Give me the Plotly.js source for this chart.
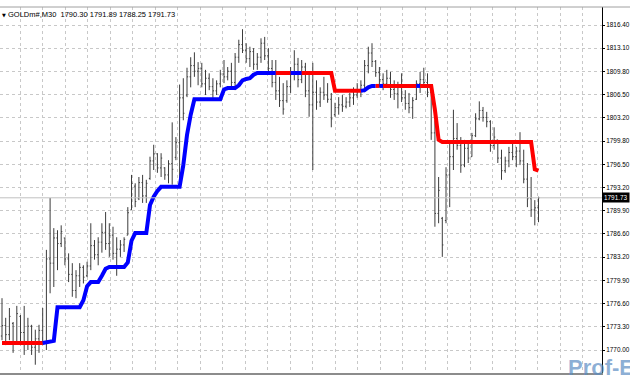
<!DOCTYPE html>
<html><head><meta charset="utf-8">
<script src="https://cdn.plot.ly/plotly-3.0.1.min.js"></script>
<style>html,body{margin:0;padding:0;background:#fff;}#chart{width:630px;height:380px;}</style>
</head><body><div id="chart"></div>
<script>
const highs = [
1777.4,1774.6,1776.0,1774.0,1776.3,1775.0,1776.3,1774.6,1773.6,1772.9,
1773.6,1776.0,1784.3,1791.7,1787.4,1787.1,1787.8,1786.0,1783.8,1782.4,
1781.4,1782.4,1782.1,1782.6,1788.1,1785.7,1786.1,1788.1,1789.7,1788.1,
1787.6,1786.1,1785.7,1786.1,1790.4,1795.0,1793.8,1794.7,1795.0,1794.3,
1797.6,1799.3,1798.1,1798.1,1796.1,1797.1,1802.5,1800.4,1807.9,1808.8,
1810.3,1811.8,1812.5,1811.1,1811.0,1810.0,1809.5,1808.8,1808.5,1810.0,
1811.4,1810.4,1811.0,1812.4,1814.3,1815.8,1813.8,1813.3,1813.1,1812.4,
1814.5,1814.7,1813.1,1811.4,1811.4,1809.0,1808.1,1808.5,1810.4,1812.8,
1811.7,1811.4,1811.0,1809.5,1811.0,1808.5,1807.5,1809.0,1808.1,1806.7,
1805.3,1806.1,1806.4,1806.1,1806.7,1807.5,1808.1,1808.5,1811.4,1813.3,
1813.8,1811.4,1810.4,1809.5,1810.0,1809.7,1808.5,1808.3,1809.5,1807.1,
1806.7,1806.1,1808.5,1809.7,1810.3,1809.5,1807.5,1802.8,1794.7,1789.0,
1796.1,1799.6,1804.3,1802.4,1800.4,1800.0,1799.6,1801.0,1803.8,1805.5,
1804.7,1804.0,1802.8,1801.8,1800.0,1798.6,1797.6,1799.0,1799.6,1799.0,
1801.1,1798.6,1796.7,1794.7,1791.4,1791.89];
const lows = [
1771.4,1770.7,1771.4,1769.6,1771.0,1770.7,1769.3,1770.0,1769.3,1767.9,
1769.6,1770.7,1770.0,1778.1,1779.0,1781.4,1784.7,1782.1,1779.7,1777.6,
1777.4,1779.0,1779.5,1780.4,1781.4,1782.9,1782.1,1783.9,1784.3,1783.3,
1782.9,1780.6,1783.3,1784.0,1786.4,1790.0,1790.4,1791.4,1791.0,1791.0,
1794.3,1795.7,1795.3,1794.7,1794.3,1793.8,1793.6,1797.1,1794.3,1802.8,
1806.1,1807.5,1809.0,1807.8,1807.5,1806.4,1807.1,1806.0,1806.4,1807.5,
1808.1,1808.5,1807.5,1807.1,1811.0,1812.4,1811.0,1810.4,1810.0,1810.0,
1811.0,1811.4,1809.5,1807.5,1805.7,1804.7,1803.6,1805.3,1806.7,1808.5,
1807.5,1808.1,1806.1,1803.3,1795.7,1804.3,1804.7,1805.7,1805.3,1801.8,
1803.3,1803.6,1804.0,1804.5,1804.7,1805.0,1806.0,1806.1,1806.8,1809.5,
1810.4,1809.0,1807.5,1807.1,1807.5,1806.0,1805.7,1804.5,1805.4,1804.3,
1803.8,1803.0,1805.7,1806.7,1807.5,1806.1,1800.0,1787.6,1788.1,1783.3,
1788.1,1790.4,1795.7,1798.6,1795.3,1796.1,1796.7,1797.6,1800.4,1802.8,
1802.6,1801.8,1798.3,1798.6,1796.7,1794.3,1795.3,1796.1,1797.1,1796.1,
1796.4,1793.8,1790.4,1789.0,1787.8,1788.25];
const opens = [
1772.0,1773.5,1772.2,1773.8,1771.0,1774.8,1772.5,1771.2,1773.4,1770.4,
1771.6,1772.8,1771.2,1783.0,1782.4,1786.0,1785.2,1786.0,1783.0,1780.8,
1778.5,1780.6,1781.8,1780.6,1782.0,1784.9,1783.6,1785.4,1786.8,1785.2,
1786.4,1783.8,1784.4,1785.0,1786.4,1790.0,1793.4,1791.6,1793.9,1792.0,
1794.5,1797.0,1798.0,1796.0,1796.0,1795.0,1796.6,1797.5,1799.6,1806.0,
1806.4,1809.0,1810.6,1809.8,1810.2,1808.0,1808.8,1807.6,1807.0,1808.0,
1809.4,1809.0,1809.8,1808.2,1811.8,1813.6,1812.8,1811.6,1812.6,1810.8,
1811.8,1813.8,1812.0,1810.2,1808.2,1807.0,1805.6,1805.6,1807.6,1809.6,
1810.8,1808.6,1810.4,1807.0,1805.0,1806.8,1805.4,1806.8,1806.4,1805.8,
1803.6,1804.6,1805.0,1804.8,1805.4,1806.0,1806.4,1807.2,1807.8,1810.6,
1812.4,1811.2,1809.6,1808.6,1808.0,1808.8,1807.2,1806.6,1807.6,1806.0,
1805.2,1804.6,1805.8,1808.0,1808.6,1808.2,1806.8,1801.0,1789.5,1788.8,
1788.5,1795.0,1797.6,1800.2,1799.2,1796.4,1798.8,1797.6,1800.6,1803.0,
1804.2,1803.2,1802.6,1799.2,1800.0,1797.4,1795.6,1797.0,1798.2,1797.6,
1798.4,1797.0,1794.4,1791.6,1790.0,1790.30];
const closes = [
1773.5,1772.2,1774.8,1771.0,1775.2,1772.5,1771.2,1773.4,1770.4,1771.6,
1772.8,1771.2,1783.0,1782.4,1786.0,1785.2,1786.9,1783.0,1780.8,1778.5,
1780.6,1781.8,1780.4,1782.0,1784.9,1783.6,1785.4,1786.8,1785.2,1786.4,
1783.8,1784.4,1785.0,1785.8,1789.6,1793.8,1791.2,1793.9,1792.0,1793.8,
1797.0,1798.0,1796.0,1797.4,1795.0,1796.6,1795.8,1799.6,1806.0,1803.8,
1809.0,1810.6,1809.8,1810.2,1808.0,1808.8,1807.6,1807.0,1808.0,1809.4,
1809.0,1809.8,1808.2,1811.8,1813.6,1812.8,1811.6,1812.6,1810.8,1811.8,
1813.8,1812.0,1810.2,1808.2,1807.0,1805.6,1804.4,1807.6,1809.6,1810.8,
1808.6,1810.4,1807.0,1805.0,1806.8,1805.4,1806.8,1806.4,1805.8,1803.0,
1804.6,1805.0,1804.8,1805.4,1806.0,1806.4,1807.2,1807.8,1810.6,1812.4,
1811.2,1809.6,1808.6,1808.0,1808.8,1807.2,1806.6,1807.6,1806.0,1805.2,
1804.6,1805.6,1808.0,1808.6,1808.2,1806.8,1801.0,1789.5,1792.8,1785.0,
1795.0,1797.6,1800.2,1799.2,1796.4,1798.8,1797.4,1800.6,1803.0,1804.2,
1803.2,1802.6,1799.2,1800.4,1797.4,1795.6,1797.0,1798.2,1797.6,1798.4,
1797.0,1794.4,1791.6,1790.0,1790.3,1791.73];
const signalLine = [
1771.0,1771.0,1771.0,1771.0,1771.0,1771.0,1771.0,1771.0,1771.0,1771.0,
1771.0,1771.0,1771.1,1771.3,1771.3,1776.1,1776.1,1776.1,1776.1,1776.1,
1776.1,1776.1,1777.1,1779.1,1779.7,1779.7,1779.7,1780.6,1781.6,1781.85,
1781.85,1781.85,1781.85,1781.85,1782.5,1785.6,1786.7,1786.7,1786.7,1786.7,
1790.7,1791.9,1792.7,1793.3,1793.3,1793.3,1793.3,1793.3,1793.3,1796.4,
1800.7,1803.6,1805.8,1805.8,1805.8,1805.8,1805.8,1805.8,1805.8,1805.8,
1807.2,1807.4,1807.4,1807.4,1807.8,1808.5,1808.7,1808.8,1809.3,1809.55,
1809.55,1809.55,1809.55,1809.55,1809.55,1809.55,1809.55,1809.55,1809.55,1809.55,
1809.55,1809.55,1809.55,1809.55,1809.55,1809.55,1809.55,1809.55,1809.55,1809.55,
1807.0,1807.0,1807.0,1807.0,1807.0,1807.0,1807.0,1807.0,1807.1,1807.5,
1807.7,1807.7,1807.7,1807.7,1807.7,1807.7,1807.7,1807.7,1807.7,1807.7,
1807.7,1807.7,1807.7,1807.7,1807.7,1807.7,1807.7,1804.3,1800.0,1799.7,
1799.7,1799.7,1799.7,1799.7,1799.7,1799.7,1799.7,1799.7,1799.7,1799.7,
1799.7,1799.7,1799.7,1799.7,1799.7,1799.7,1799.7,1799.7,1799.7,1799.7,
1799.7,1799.7,1799.7,1799.7,1795.8,1795.6];
const trendDir = [
-1,-1,-1,-1,-1,-1,-1,-1,-1,-1,
-1,-1,1,1,1,1,1,1,1,1,
1,1,1,1,1,1,1,1,1,1,
1,1,1,1,1,1,1,1,1,1,
1,1,1,1,1,1,1,1,1,1,
1,1,1,1,1,1,1,1,1,1,
1,1,1,1,1,1,1,1,1,1,
1,1,1,1,1,-1,-1,-1,-1,1,
1,1,-1,-1,-1,-1,-1,-1,-1,-1,
-1,-1,-1,-1,-1,-1,-1,-1,1,1,
1,1,-1,1,-1,-1,-1,-1,-1,-1,
-1,-1,-1,1,-1,-1,-1,-1,-1,-1,
-1,-1,-1,-1,-1,-1,-1,-1,-1,-1,
-1,-1,-1,-1,-1,-1,-1,-1,-1,-1,
-1,-1,-1,-1,-1,-1];
const yTickLabels = ['1770.00','1773.30','1776.60','1779.90','1783.20','1786.60','1789.90','1793.20','1796.50','1799.80','1803.20','1806.50','1809.80','1813.10','1816.40'];
const lastPrice = 1791.73;
const symbolInfo = 'GOLDm#,M30  1790.30 1791.89 1788.25 1791.73';
const watermark = 'Prof-E';

const barIdx = highs.map((_, i) => i);
const tLo = parseFloat(yTickLabels[0]), tHi = parseFloat(yTickLabels[yTickLabels.length-1]);
const yTickVals = yTickLabels.map((_, k) => tLo + k*(tHi - tLo)/(yTickLabels.length-1));

const traces = [{
  type:'ohlc', x:barIdx, open:opens, high:highs, low:lows, close:closes,
  increasing:{line:{color:'#3c3c3c', width:1}},
  decreasing:{line:{color:'#3c3c3c', width:1}},
  tickwidth:0.3, hoverinfo:'skip', showlegend:false
}];
let start = 0;
for (let i = 1; i <= signalLine.length; i++) {
  if (i === signalLine.length || trendDir[i] !== trendDir[start]) {
    const from = Math.max(0, start - 1);
    traces.push({type:'scatter', mode:'lines', x:barIdx.slice(from, i), y:signalLine.slice(from, i),
      line:{color: trendDir[start] > 0 ? '#0000ff' : '#ff0000', width:4}, showlegend:false, hoverinfo:'skip'});
    start = i;
  }
}

const axisFont = 'Liberation Sans';
const gridCol = '#c8c8c8';
const layout = {
  width:630, height:380,
  margin:{l:0, r:28, t:7, b:7, pad:0},
  paper_bgcolor:'#ffffff', plot_bgcolor:'#ffffff',
  showlegend:false,
  xaxis:{range:[-0.54,162.16], rangeslider:{visible:false}, showgrid:true, gridcolor:gridCol, griddash:'3px,3px',
    tickmode:'linear', tick0:4.865, dtick:6.081, showticklabels:false, ticks:'', zeroline:false,
    showline:true, linecolor:'#8c8c8c', linewidth:2, fixedrange:true},
  yaxis:{side:'right', range:[1766.72,1818.97], tickmode:'array', tickvals:yTickVals, ticktext:yTickLabels,
    showgrid:true, gridcolor:gridCol, griddash:'3px,3px', ticks:'outside', ticklen:2, tickcolor:'#000',
    showline:true, linecolor:'#000', linewidth:1, zeroline:false,
    tickfont:{family:axisFont, size:6.4, color:'#000'}},
  shapes:[
    {type:'line', xref:'paper', yref:'y', x0:0, x1:1, y0:lastPrice, y1:lastPrice, line:{color:'#c0c0c0', width:1}},
    {type:'line', xref:'paper', yref:'paper', x0:0, x1:1.05, y0:1, y1:1, line:{color:'#a0a0a0', width:1}}
  ],
  annotations:[
    {xref:'paper', yref:'paper', x:0, y:1, xanchor:'left', yanchor:'top', xshift:0, yshift:-3, text:'▼', showarrow:false, font:{family:'DejaVu Sans', size:5, color:'#000'}},
    {xref:'paper', yref:'paper', x:0, y:1, xanchor:'left', yanchor:'top', xshift:6, yshift:-1, text:symbolInfo, showarrow:false, font:{family:'Liberation Sans', size:7.5, color:'#000'}},
    {xref:'paper', yref:'paper', x:1, y:0, xanchor:'left', yanchor:'bottom', xshift:-36, yshift:-9, text:'<b>'+watermark+'</b>', showarrow:false, font:{family:'Liberation Sans', size:22, color:'rgba(90,140,195,0.7)'}},
    {xref:'paper', yref:'y', x:1, y:lastPrice, xanchor:'left', yanchor:'middle', xshift:0, text:'1791.73', showarrow:false, bgcolor:'#000', borderpad:1, font:{family:axisFont, size:6.4, color:'#fff'}}
  ]
};
Plotly.newPlot('chart', traces, layout, {staticPlot:true, displayModeBar:false});
</script>
</body></html>
